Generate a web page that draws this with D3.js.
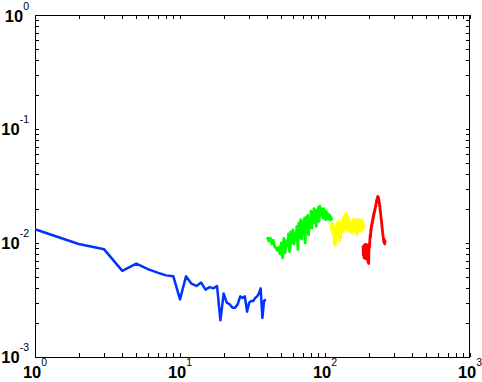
<!DOCTYPE html>
<html>
<head>
<meta charset="utf-8">
<script src="https://cdn.jsdelivr.net/npm/d3@7"></script>
<style>
  body { margin:0; background:#fff; }
  svg { display:block; }
  text { font-family: "Liberation Sans", Arial, sans-serif; fill:#000; }
</style>
</head>
<body>
<div id="chart"></div>
<script>
/* data, x = start + index */
const blueStart = 1;
const blueVals = [0.0132,0.0098,0.0088,0.0057,0.0066,0.0059,0.0055,0.0052,0.0051,0.0032,
  0.0051,0.0044,0.0042,0.0045,0.0039,0.0041,0.0040,0.0042,0.0021,0.0036,
  0.0030,0.0029,0.0027,0.0027,0.0029,0.0034,0.0033,0.0034,0.0025,0.0030,
  0.0031,0.0031,0.0033,0.0034,0.0036,0.0040,0.0022,0.0031,0.0032];

const greenStart = 40;
const greenVals = [0.0113,0.0104,0.0110,0.0098,0.0106,0.0093,0.0090,0.0086,0.0092,0.0080,
  0.0100,0.0074,0.0110,0.0082,0.0105,0.0095,0.0120,0.0084,0.0125,0.0100,
  0.0130,0.0098,0.0122,0.0110,0.0140,0.0088,0.0150,0.0112,0.0160,0.0108,
  0.0155,0.0120,0.0165,0.0100,0.0168,0.0130,0.0175,0.0118,0.0160,0.0145,
  0.0190,0.0135,0.0185,0.0150,0.0200,0.0160,0.0178,0.0140,0.0195,0.0165,
  0.0205,0.0155,0.0210,0.0175,0.0200,0.0180,0.0190,0.0165,0.0200,0.0170,
  0.0185,0.0160,0.0190,0.0168,0.0182,0.0162,0.0178,0.0165,0.0175,0.0160,
  0.0168,0.0162,0.0158];

const yellowStart = 110;
const yellowVals = [0.0130,0.0145,0.0125,0.0150,0.0118,0.0135,0.0098,0.0140,0.0095,0.0132,
  0.0120,0.0148,0.0125,0.0155,0.0120,0.0140,0.0105,0.0150,0.0112,0.0145,
  0.0128,0.0158,0.0130,0.0162,0.0125,0.0170,0.0135,0.0165,0.0140,0.0182,
  0.0138,0.0175,0.0130,0.0160,0.0142,0.0168,0.0128,0.0155,0.0135,0.0150,
  0.0125,0.0148,0.0138,0.0155,0.0122,0.0145,0.0130,0.0160,0.0128,0.0150,
  0.0135,0.0162,0.0125,0.0148,0.0138,0.0158,0.0118,0.0145,0.0130,0.0155,
  0.0125,0.0160,0.0135,0.0150,0.0140,0.0158,0.0128,0.0150,0.0135,0.0160,
  0.0130,0.0148,0.0138,0.0152,0.0135,0.0145];

const redStart = 183;
const redVals = [0.0095,0.0078,0.0092,0.0074,0.0096,0.0076,0.0094,0.0073,0.0097,0.0078,
  0.0095,0.0072,0.0096,0.0080,0.0090,0.0068,0.0085,0.0066,0.0088,0.0098,
  0.0092,0.0108,0.0118,0.0112,0.0132,0.0128,0.0142,0.0138,0.0152,0.0148,
  0.0160,0.0158,0.0172,0.0168,0.0182,0.0178,0.0190,0.0188,0.0200,0.0198,
  0.0212,0.0208,0.0222,0.0225,0.0238,0.0235,0.0248,0.0245,0.0256,0.0250,
  0.0254,0.0240,0.0244,0.0225,0.0228,0.0210,0.0212,0.0195,0.0192,0.0178,
  0.0175,0.0162,0.0158,0.0148,0.0142,0.0134,0.0128,0.0122,0.0118,0.0112,
  0.0108,0.0103,0.0110,0.0100,0.0106,0.0098,0.0104,0.0101];

const xDecades = [1,10,100,1000];
const yDecades = [0.001,0.01,0.1,1];

const W = 482, H = 382;
const L = 35, R = 470, T = 15, B = 357;

const svg = d3.select("#chart").append("svg")
  .attr("width",W).attr("height",H);

const x = d3.scaleLog().domain([1,1000]).range([L,R]);
const y = d3.scaleLog().domain([0.001,1]).range([B,T]);

function toPts(start,vals){
  return vals.map((v,i)=>({x:start+i,y:v}));
}

// ticks, inward on all four sides
const xt = x.ticks(), yt = y.ticks();
svg.append("g").attr("transform",`translate(0,${B})`)
  .call(d3.axisBottom(x).tickValues(xt).tickSize(-4).tickSizeOuter(0).tickFormat(""));
svg.append("g").attr("transform",`translate(0,${T})`)
  .call(d3.axisTop(x).tickValues(xt).tickSize(-4).tickSizeOuter(0).tickFormat(""));
svg.append("g").attr("transform",`translate(${L},0)`)
  .call(d3.axisLeft(y).tickValues(yt).tickSize(-4).tickSizeOuter(0).tickFormat(""));
svg.append("g").attr("transform",`translate(${R},0)`)
  .call(d3.axisRight(y).tickValues(yt).tickSize(-4).tickSizeOuter(0).tickFormat(""));
svg.selectAll(".domain").remove();
svg.selectAll(".tick line").attr("stroke","#000").attr("shape-rendering","crispEdges");

svg.append("rect")
  .attr("x",L+0.5).attr("y",T+0.5)
  .attr("width",R-L-1).attr("height",B-T)
  .attr("fill","none").attr("stroke","#000").attr("shape-rendering","crispEdges");

// lines
const line = d3.line().x(d=>x(d.x)).y(d=>y(d.y));
const series = [
  {pts:toPts(blueStart,blueVals),color:"#0033ff",w:2.5},
  {pts:toPts(greenStart,greenVals),color:"#00ff00",w:2.8},
  {pts:toPts(yellowStart,yellowVals),color:"#ffff00",w:2.8},
  {pts:toPts(redStart,redVals),color:"#ff0000",w:2.8}
];
series.forEach(s=>{
  svg.append("path").datum(s.pts)
    .attr("d",line)
    .attr("fill","none")
    .attr("stroke",s.color)
    .attr("stroke-width",s.w)
    .attr("stroke-linejoin","round");
});

// tick labels 10^n
function expLabel(g,n){
  g.append("tspan").text("10")
    .attr("font-size",16.5).attr("font-weight","bold");
  g.append("tspan").text(n)
    .attr("font-size",10.5).attr("dy",-12);
}
xDecades.forEach(d=>{
  const t = svg.append("text")
    .attr("x",x(d)).attr("y",378)
    .attr("text-anchor","middle");
  expLabel(t,Math.round(Math.log10(d)));
});
yDecades.forEach(d=>{
  const t = svg.append("text")
    .attr("x",29).attr("y",Math.max(y(d)+6,22))
    .attr("text-anchor","end");
  expLabel(t,Math.round(Math.log10(d)));
});
</script>
</body>
</html>
